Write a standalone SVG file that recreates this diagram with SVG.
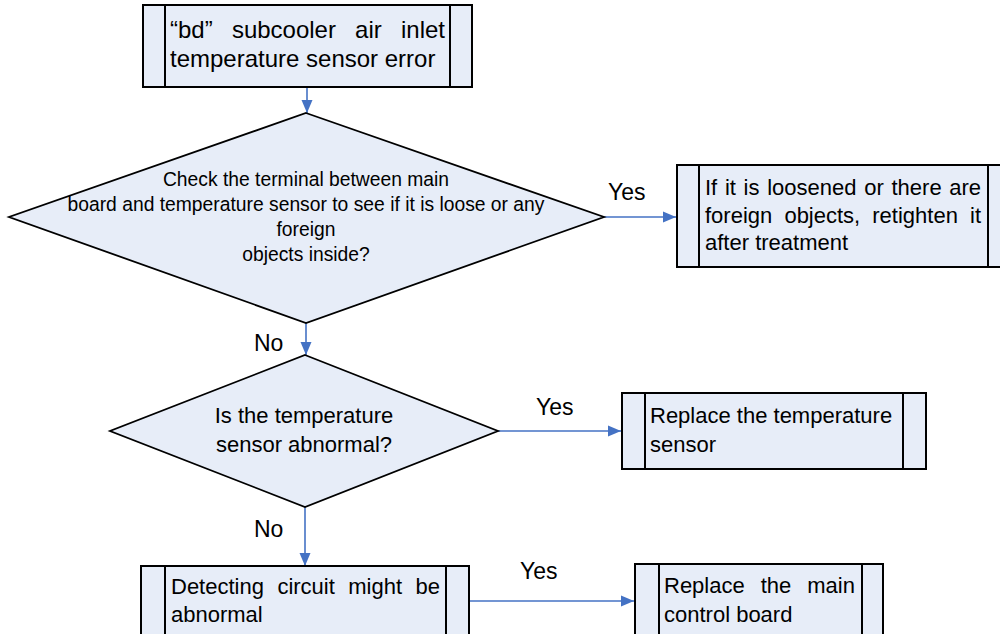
<svg xmlns="http://www.w3.org/2000/svg" width="1000" height="634" viewBox="0 0 1000 634">
<style>
.box{fill:#E7EDF8;stroke:#000;stroke-width:2}
.bar{stroke:#000;stroke-width:2}
.dia{fill:#E7EDF8;stroke:#000;stroke-width:1.8}
.t{font-family:"Liberation Sans",Arial,sans-serif;font-size:22px;fill:#000}
.lb{font-family:"Liberation Sans",Arial,sans-serif;font-size:23px;fill:#000}
.t24{font-family:"Liberation Sans",Arial,sans-serif;font-size:24px;fill:#000}
.ts{font-family:"Liberation Sans",Arial,sans-serif;font-size:19.3px;fill:#000;text-anchor:middle}
.c{fill:none;stroke:#4472C4;stroke-width:1.6}
</style>
<defs>
<marker id="ah" markerUnits="userSpaceOnUse" markerWidth="14" markerHeight="14" viewBox="0 0 14 14" refX="13" refY="7" orient="auto">
<path d="M0,1.5 L13,7 L0,12.5 Z" fill="#4472C4"/>
</marker>
</defs>

<g id="connectors">
<path class="c" d="M307,88 V113" marker-end="url(#ah)"/>
<path class="c" d="M604,217 H676" marker-end="url(#ah)"/>
<path class="c" d="M306,323 V355" marker-end="url(#ah)"/>
<path class="c" d="M498,431 H621" marker-end="url(#ah)"/>
<path class="c" d="M305,507 V566" marker-end="url(#ah)"/>
<path class="c" d="M469,601 H634" marker-end="url(#ah)"/>
<text class="lb" x="608" y="200">Yes</text>
<text class="lb" x="254" y="351">No</text>
<text class="lb" x="536" y="415">Yes</text>
<text class="lb" x="254" y="537">No</text>
<text class="lb" x="520" y="579">Yes</text>
</g>

<g id="n1">
<rect class="box" x="143" y="5" width="329" height="82"/>
<line class="bar" x1="165" y1="5" x2="165" y2="87"/>
<line class="bar" x1="450" y1="5" x2="450" y2="87"/>
<text class="t24" y="38"><tspan x="170">“bd”</tspan><tspan x="231.9">subcooler</tspan><tspan x="355.1">air</tspan><tspan x="401">inlet</tspan></text>
<text class="t24" x="170" y="67">temperature sensor error</text>
</g>

<g id="d1">
<polygon class="dia" points="306,113 604,217 306,323 9,217"/>
<text class="ts" x="306" y="186">Check the terminal between main</text>
<text class="ts" x="306" y="211">board and temperature sensor to see if it is loose or any</text>
<text class="ts" x="306" y="236">foreign</text>
<text class="ts" x="306" y="261">objects inside?</text>
</g>

<g id="n2">
<rect class="box" x="677" y="165" width="340" height="102"/>
<line class="bar" x1="699" y1="165" x2="699" y2="267"/>
<line class="bar" x1="988" y1="165" x2="988" y2="267"/>
<text class="t" y="195"><tspan x="705">If</tspan><tspan x="724.9">it</tspan><tspan x="743.6">is</tspan><tspan x="767.2">loosened</tspan><tspan x="864.2">or</tspan><tspan x="891.5">there</tspan><tspan x="949.3">are</tspan></text>
<text class="t" y="223"><tspan x="705">foreign</tspan><tspan x="784.4">objects,</tspan><tspan x="872.3">retighten</tspan><tspan x="970">it</tspan></text>
<text class="t" x="705" y="250">after treatment</text>
</g>

<g id="d2">
<polygon class="dia" points="305,355 498,431 305,507 110,431"/>
<text class="t" x="304" y="423" text-anchor="middle">Is the temperature</text>
<text class="t" x="304" y="452" text-anchor="middle">sensor abnormal?</text>
</g>

<g id="n3">
<rect class="box" x="622" y="393" width="304" height="76"/>
<line class="bar" x1="645" y1="393" x2="645" y2="469"/>
<line class="bar" x1="903" y1="393" x2="903" y2="469"/>
<text class="t" x="650" y="423">Replace the temperature</text>
<text class="t" x="650" y="452">sensor</text>
</g>

<g id="n4">
<rect class="box" x="141" y="566" width="328" height="90"/>
<line class="bar" x1="165" y1="566" x2="165" y2="656"/>
<line class="bar" x1="446" y1="566" x2="446" y2="656"/>
<text class="t" y="594"><tspan x="171">Detecting</tspan><tspan x="277.4">circuit</tspan><tspan x="348.3">might</tspan><tspan x="415.6">be</tspan></text>
<text class="t" x="171" y="622">abnormal</text>
</g>

<g id="n5">
<rect class="box" x="635" y="564" width="248" height="90"/>
<line class="bar" x1="659" y1="564" x2="659" y2="654"/>
<line class="bar" x1="862" y1="564" x2="862" y2="654"/>
<text class="t" y="593"><tspan x="664">Replace</tspan><tspan x="760.7">the</tspan><tspan x="807.3">main</tspan></text>
<text class="t" x="664" y="622">control board</text>
</g>
</svg>
